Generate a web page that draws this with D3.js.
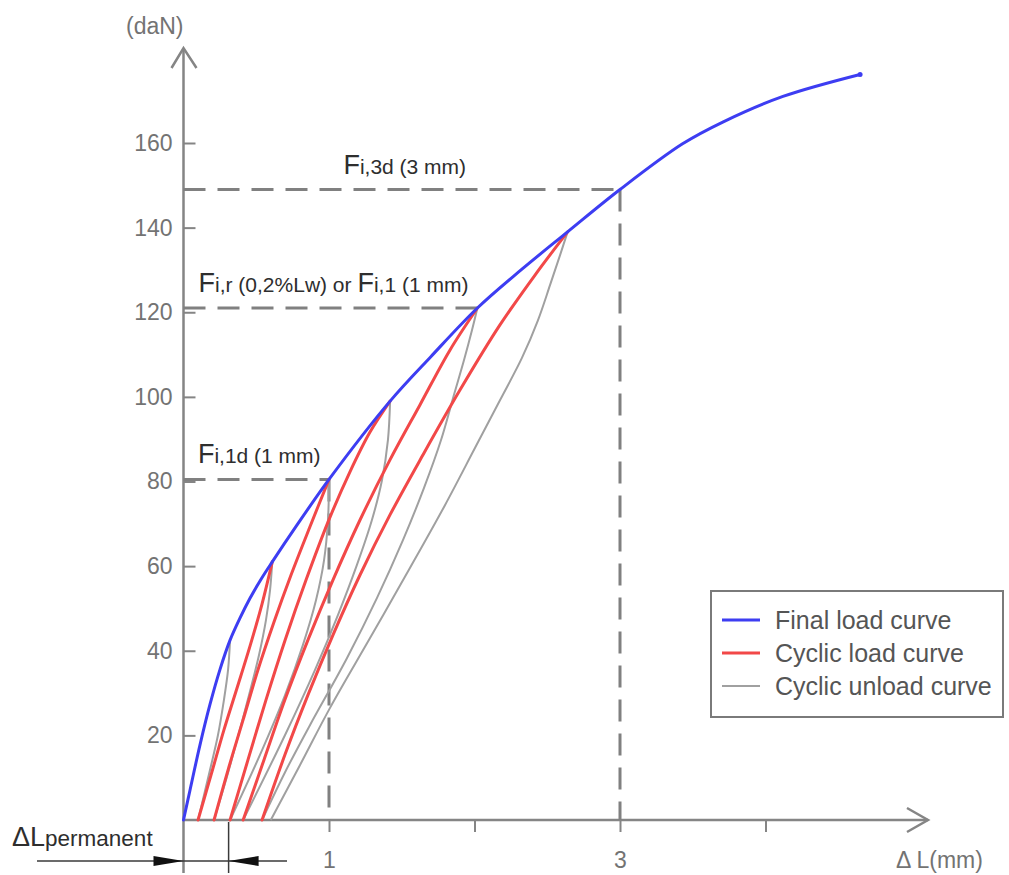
<!DOCTYPE html>
<html>
<head>
<meta charset="utf-8">
<script src="https://cdn.jsdelivr.net/npm/d3@7"></script>
<style>
  body { margin: 0; background: #fff; }
  svg { display: block; }
</style>
</head>
<body>
<svg id="chart" width="1009" height="875"></svg>
<script>
// ---- data -------------------------------------------------------------
// load axis (daN) ticks and deflection axis (mm) ticks
const yTicks = [20, 40, 60, 80, 100, 120, 140, 160];
const xTicks = [1, 2, 3, 4];
const xTickLabels = ["1", "", "3", ""];

// final load curve: [deflection mm, load daN]
const finalLoad = [[0,0],[0.045,7.1],[0.113,17.7],[0.182,27.3],[0.251,35.6],[0.32,42.5],
  [0.388,47.7],[0.457,52.4],[0.533,56.9],[0.61,61.0],[0.77,69.2],[1.0,80.5],[1.42,99.0],[1.70,109.5],
  [2.02,121.0],[2.32,130.0],[2.64,139.0],[3.0,149.0],[3.43,159.8],[3.71,165.0],[4.12,171.0],[4.65,176.2]];

// cyclic reload curves, each from a residual deflection up to the next peak
const reload1 = [[0.1,0],[0.189,10.6],[0.278,21.3],[0.368,31.2],[0.457,41.1],[0.54,51.1],[0.61,61.0]];
const reload2 = [[0.21,0],[0.306,11.8],[0.409,23.6],[0.512,35.5],[0.622,46.8],[0.739,57.9],[0.869,69.3],[1.0,80.5]];
const reload3 = [[0.32,0],[0.443,14.2],[0.567,28.4],[0.698,42.5],[0.842,56.7],[0.993,70.4],[1.144,82.3],
  [1.282,91.7],[1.42,99.0]];
const reload4 = [[0.41,0],[0.553,14.2],[0.697,28.4],[0.855,42.5],[1.027,56.7],[1.213,70.9],[1.419,85.1],
  [1.625,98.1],[1.832,111.1],[2.02,121.0]];
const reload5 = [[0.54,0],[0.697,15.4],[0.855,29.5],[1.027,43.7],[1.213,57.9],[1.419,72.1],[1.646,86.3],
  [1.9,101.6],[2.175,117.0],[2.416,128.8],[2.64,139.0]];

// cyclic unload curves, each from a peak back down to zero load
const unload1 = [[0.32,42.5],[0.306,35.4],[0.278,28.4],[0.237,20.1],[0.182,11.8],[0.1,0]];
const unload2 = [[0.61,61.0],[0.595,54.4],[0.567,47.3],[0.519,39.0],[0.45,29.5],[0.368,18.9],[0.292,9.45],[0.21,0]];
const unload3 = [[1.0,80.5],[0.993,70.9],[0.966,61.4],[0.911,52.0],[0.821,41.4],[0.698,29.5],[0.54,16.5],[0.32,0]];
const unload4 = [[1.42,99.0],[1.405,89.8],[1.364,80.3],[1.295,70.9],[1.192,60.3],[1.062,48.5],[0.904,35.5],
  [0.698,20.1],[0.41,0]];
const unload5 = [[2.02,121.0],[1.983,115.8],[1.928,108.7],[1.859,100.5],[1.77,89.8],[1.653,78.5],[1.509,66.2],
  [1.33,52.5],[1.124,38.3],[0.869,22.4],[0.698,11.3],[0.54,0]];
const unload6 = [[2.64,139.0],[2.588,133.5],[2.519,126.4],[2.436,118.1],[2.326,109.2],[2.175,99.2],[2.003,87.9],
  [1.797,74.4],[1.557,59.6],[1.282,43.0],[1.007,26.5],[0.801,13.0],[0.6,0]];

// reference readings on the final curve: deflection (mm), load (daN)
const refDeflection = [1, 2.02, 3];
const refLoad = [80.5, 121, 149];
const refLabels = [
  [["F", true], ["i,1d (1 mm)", false]],
  [["F", true], ["i,r (0,2%Lw) or ", false], ["F", true], ["i,1 (1 mm)", false]],
  [["F", true], ["i,3d (3 mm)", false]]
];

// permanent deflection marked under the axis (mm)
const permanentSet = 0.31;

const legendLabels = ["Final load curve", "Cyclic load curve", "Cyclic unload curve"];

// ---- drawing ----------------------------------------------------------
const svg = d3.select("#chart");
const FONT = "'Liberation Sans', Arial, Helvetica, sans-serif";
const axisColor = "#858585";
const labelColor = "#737373";
const colors = { final: "#3d3df2", load: "#f24848", unload: "#a0a0a0" };

const x = d3.scaleLinear().domain([0, 1]).range([183.5, 329]);
const y = d3.scaleLinear().domain([0, 160]).range([820, 143]);

const x0 = x(0), y0 = y(0);

// x axis (ticks + labels)
const xAxis = d3.axisBottom(x).tickValues(xTicks).tickSize(12).tickPadding(20)
  .tickFormat((d, i) => xTickLabels[i]);
const gx = svg.append("g").attr("transform", `translate(0,${y0})`).call(xAxis);
gx.select(".domain").remove();
gx.selectAll(".tick line").attr("stroke", axisColor).attr("stroke-width", 2);
gx.selectAll(".tick text").attr("fill", labelColor).style("font", `23px ${FONT}`);

// y axis (ticks to the right, labels to the left)
const yAxis = d3.axisLeft(y).tickValues(yTicks).tickSize(-12).tickPadding(11);
const gy = svg.append("g").attr("transform", `translate(${x0},0)`).call(yAxis);
gy.select(".domain").remove();
gy.selectAll(".tick line").attr("stroke", axisColor).attr("stroke-width", 2);
gy.selectAll(".tick text").attr("fill", labelColor).style("font", `23px ${FONT}`);

// axis lines with open arrow heads
const xEnd = 928, yTop = 48;
svg.append("line").attr("x1", x0).attr("x2", xEnd).attr("y1", y0).attr("y2", y0)
  .attr("stroke", axisColor).attr("stroke-width", 2.5);
svg.append("path").attr("d", `M${xEnd - 21},${y0 - 12}L${xEnd},${y0}L${xEnd - 21},${y0 + 12}`)
  .attr("fill", "none").attr("stroke", axisColor).attr("stroke-width", 2.5);
svg.append("line").attr("x1", x0).attr("x2", x0).attr("y1", yTop).attr("y2", 873)
  .attr("stroke", axisColor).attr("stroke-width", 2.5);
svg.append("path").attr("d", `M${x0 - 12},${yTop + 20}L${x0},${yTop}L${x0 + 13},${yTop + 20}`)
  .attr("fill", "none").attr("stroke", axisColor).attr("stroke-width", 2.5);

svg.append("text").attr("x", x0).attr("y", 34).attr("text-anchor", "end")
  .attr("fill", labelColor).style("font", `23px ${FONT}`).text("(daN)");
svg.append("text").attr("x", 896).attr("y", 868)
  .attr("fill", labelColor).style("font", `23px ${FONT}`).text("\u0394 L(mm)");

// dashed reference lines
const dashed = svg.append("g").attr("fill", "none").attr("stroke", "#808080")
  .attr("stroke-width", 3).attr("stroke-dasharray", "22,12");
refDeflection.forEach((d, i) => {
  dashed.append("line").attr("x1", x0).attr("x2", x(d))
    .attr("y1", y(refLoad[i])).attr("y2", y(refLoad[i]));
  if (Number.isInteger(d)) {
    dashed.append("line").attr("x1", x(d)).attr("x2", x(d))
      .attr("y1", y(refLoad[i])).attr("y2", y0);
  }
});

// curves
const line = d3.line().x(d => x(d[0])).y(d => y(d[1])).curve(d3.curveCatmullRom.alpha(0.5));

svg.append("g").selectAll("path")
  .data([unload1, unload2, unload3, unload4, unload5, unload6]).join("path")
  .attr("d", line).attr("fill", "none").attr("stroke", colors.unload).attr("stroke-width", 2);

svg.append("g").selectAll("path")
  .data([reload1, reload2, reload3, reload4, reload5]).join("path")
  .attr("d", line).attr("fill", "none").attr("stroke", colors.load).attr("stroke-width", 3)
  .attr("stroke-linecap", "round");

svg.append("path").datum(finalLoad).attr("d", line).attr("fill", "none")
  .attr("stroke", colors.final).attr("stroke-width", 3).attr("stroke-linecap", "round");
const last = finalLoad[finalLoad.length - 1];
svg.append("circle").attr("cx", x(last[0])).attr("cy", y(last[1])).attr("r", 2.5)
  .attr("fill", colors.final);

// reference labels: large "F" followed by smaller index text
refDeflection.forEach((d, i) => {
  const t = svg.append("text").attr("x", (x0 + x(d)) / 2 + 3).attr("y", y(refLoad[i]) - 16)
    .attr("text-anchor", "middle").attr("fill", "#2e2e2e").style("font-family", FONT);
  refLabels[i].forEach(([txt, big]) => {
    t.append("tspan").style("font-size", big ? "27px" : "21px").text(txt);
  });
});

// permanent deflection marker
const xp = x(permanentSet), ya = 861;
const pm = svg.append("g").attr("stroke", "#3a3a3a");
pm.append("line").attr("x1", 37).attr("x2", 287).attr("y1", ya).attr("y2", ya).attr("stroke-width", 1.5);
pm.append("line").attr("x1", xp).attr("x2", xp).attr("y1", y0 + 2).attr("y2", 873).attr("stroke-width", 1.5);
svg.append("path").attr("d", `M${x0 - 30},${ya - 5}L${x0},${ya}L${x0 - 30},${ya + 5}Z`).attr("fill", "#111");
svg.append("path").attr("d", `M${xp + 30},${ya - 5}L${xp},${ya}L${xp + 30},${ya + 5}Z`).attr("fill", "#111");
const pt = svg.append("text").attr("x", 12).attr("y", 846).attr("fill", "#2e2e2e").style("font-family", FONT);
pt.append("tspan").style("font-size", "27px").text("\u0394L");
pt.append("tspan").style("font-size", "22.5px").text("permanent");

// legend
const lg = svg.append("g").attr("transform", "translate(711,591)");
lg.append("rect").attr("width", 292).attr("height", 126).attr("fill", "#fff")
  .attr("stroke", "#7a7a7a").attr("stroke-width", 2);
const legendColors = [colors.final, colors.load, colors.unload];
legendLabels.forEach((lab, i) => {
  const cy = 29 + i * 33;
  lg.append("line").attr("x1", 11).attr("x2", 49).attr("y1", cy).attr("y2", cy)
    .attr("stroke", legendColors[i]).attr("stroke-width", i === 2 ? 2 : 3);
  lg.append("text").attr("x", 64).attr("y", cy + 9).attr("fill", "#555")
    .style("font", `25px ${FONT}`).text(lab);
});
</script>
</body>
</html>
